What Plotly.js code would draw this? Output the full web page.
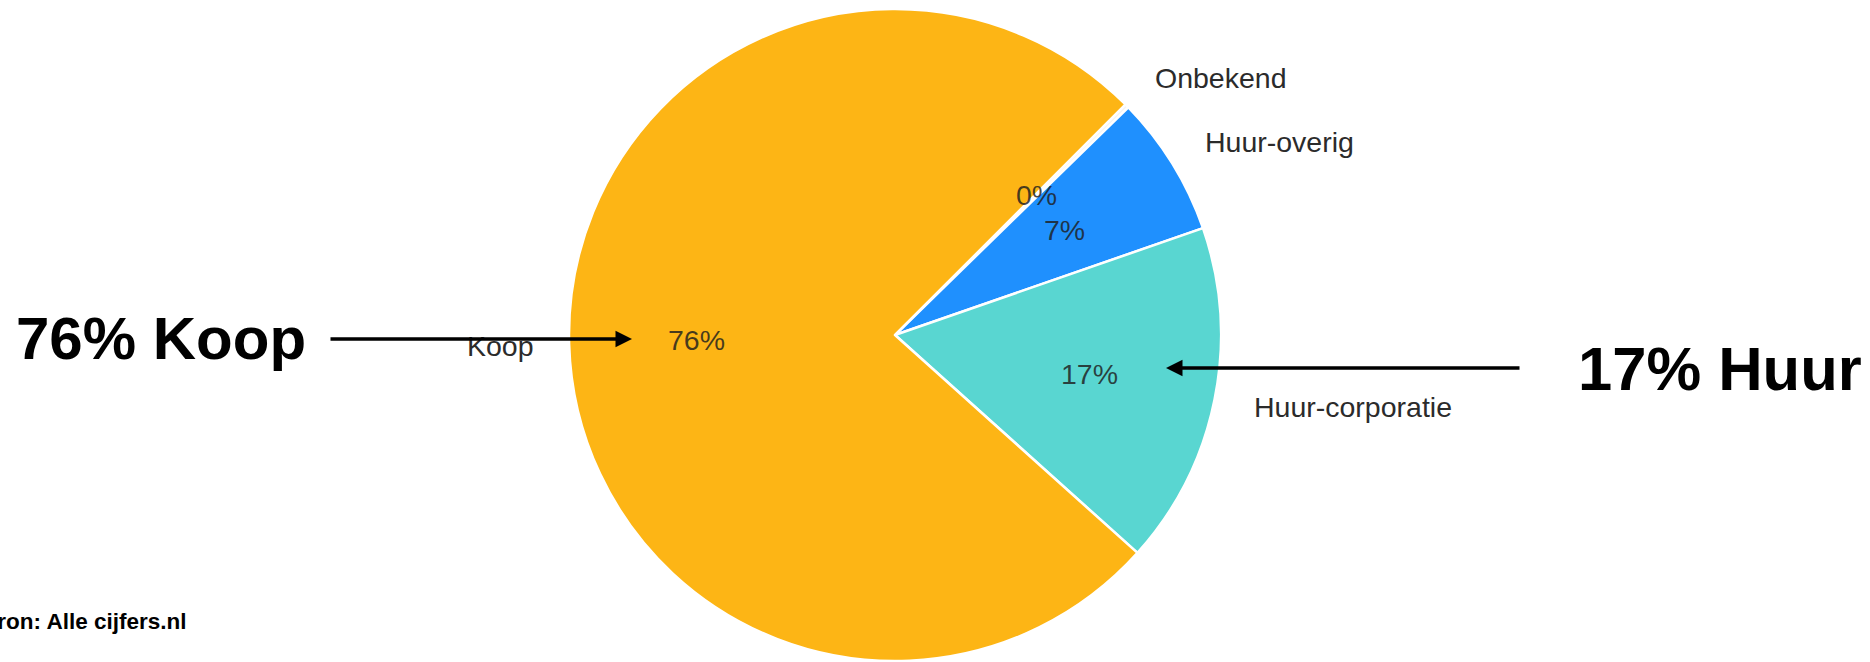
<!DOCTYPE html>
<html>
<head>
<meta charset="utf-8">
<script src="https://cdn.plot.ly/plotly-3.0.1.min.js"></script>
<style>html,body{margin:0;padding:0;background:#fff;}#chart{width:1870px;height:662px;}</style>
</head>
<body>
<div id="chart"></div>
<script>
// ---- data (clockwise order, starting at the upper-right boundary) ----
const categories = ['Onbekend', 'Huur-overig', 'Huur-corporatie', 'Koop'];
const values = [0.2, 7, 17, 76];
const sliceColors = ['#F4F4F4', '#1F90FE', '#59D6D1', '#FDB515'];
const calloutTexts = ['76% Koop', '17% Huur'];
const sourceText = 'Bron: Alle cijfers.nl';

// ---- geometry (layout only) ----
const W = 1870, H = 662;
const CX = 895, CY = 335, R = 326;
const START_CW = 45;            // start angle, degrees clockwise from 12 o'clock
const LABEL_R = 0.61;           // fraction of radius for percent labels
const labelPos = {              // category name labels (left edge, centre y) in px
  'Koop': [465, 346],
  'Huur-corporatie': [1252, 407],
  'Huur-overig': [1203, 142],
  'Onbekend': [1153, 78]
};

const px = x => x / W;
const py = y => 1 - y / H;

const trace = {
  type: 'pie',
  labels: categories,
  values: values,
  sort: false,
  direction: 'clockwise',
  rotation: START_CW,
  marker: { colors: sliceColors, line: { color: '#ffffff', width: 2.5 } },
  textinfo: 'none',
  hoverinfo: 'label+percent',
  domain: { x: [px(CX - R), px(CX + R)], y: [py(CY + R), py(CY - R)] }
};

const annotations = [];
const total = values.reduce((a, b) => a + b, 0);
const labelFont = { family: 'Liberation Sans, Arial, sans-serif', size: 28.5, color: '#2b2b2b' };

// percent labels along each slice's mid angle (derived from the data)
let angle = START_CW;
values.forEach((v, i) => {
  const sweep = v / total * 360;
  const mid = angle + sweep / 2;   // clockwise
  angle += sweep;
  const rad = mid * Math.PI / 180;
  const x = CX + Math.sin(rad) * R * LABEL_R;
  const y = CY - Math.cos(rad) * R * LABEL_R;
  annotations.push({
    xref: 'paper', yref: 'paper', x: px(x), y: py(y),
    xanchor: 'center', yanchor: 'middle', showarrow: false,
    text: Math.round(v / total * 100) + '%',
    font: { family: 'Liberation Sans, Arial, sans-serif', size: 28.5, color: 'rgba(30,30,30,0.82)' }
  });
});

// category name labels
categories.forEach(c => {
  const p = labelPos[c];
  annotations.push({
    xref: 'paper', yref: 'paper', x: px(p[0]), y: py(p[1]),
    xanchor: 'left', yanchor: 'middle', showarrow: false,
    text: c, font: labelFont
  });
});

// big callouts
annotations.push({
  xref: 'paper', yref: 'paper', x: px(14), y: py(338), xanchor: 'left', yanchor: 'middle',
  showarrow: false, text: '<b>' + calloutTexts[0] + '</b>',
  font: { family: 'Liberation Sans, Arial, sans-serif', size: 60, color: '#000000' }
});
annotations.push({
  xref: 'paper', yref: 'paper', x: px(1576), y: py(368), xanchor: 'left', yanchor: 'middle',
  showarrow: false, text: '<b>' + calloutTexts[1] + '</b>',
  font: { family: 'Liberation Sans, Arial, sans-serif', size: 61.5, color: '#000000' }
});

// arrows
annotations.push({
  xref: 'paper', yref: 'paper', x: px(632), y: py(339), text: '', showarrow: true,
  axref: 'pixel', ayref: 'pixel', ax: -(632 - 329), ay: 0,
  arrowhead: 2, arrowsize: 1, arrowwidth: 3.3, arrowcolor: '#000', standoff: 0, startstandoff: 0
});
annotations.push({
  xref: 'paper', yref: 'paper', x: px(1166), y: py(368), text: '', showarrow: true,
  axref: 'pixel', ayref: 'pixel', ax: (1521 - 1166), ay: 0,
  arrowhead: 2, arrowsize: 1, arrowwidth: 3.3, arrowcolor: '#000', standoff: 0, startstandoff: 0
});

// source
annotations.push({
  xref: 'paper', yref: 'paper', x: px(188), y: py(621), xanchor: 'right', yanchor: 'middle',
  showarrow: false, text: '<b>' + sourceText + '</b>',
  font: { family: 'Liberation Sans, Arial, sans-serif', size: 22.5, color: '#000' }
});

const layout = {
  width: W, height: H,
  margin: { l: 0, r: 0, t: 0, b: 0, pad: 0 },
  paper_bgcolor: '#ffffff',
  plot_bgcolor: '#ffffff',
  showlegend: false,
  annotations: annotations
};

Plotly.newPlot('chart', [trace], layout, { staticPlot: true, displayModeBar: false });
</script>
</body>
</html>
